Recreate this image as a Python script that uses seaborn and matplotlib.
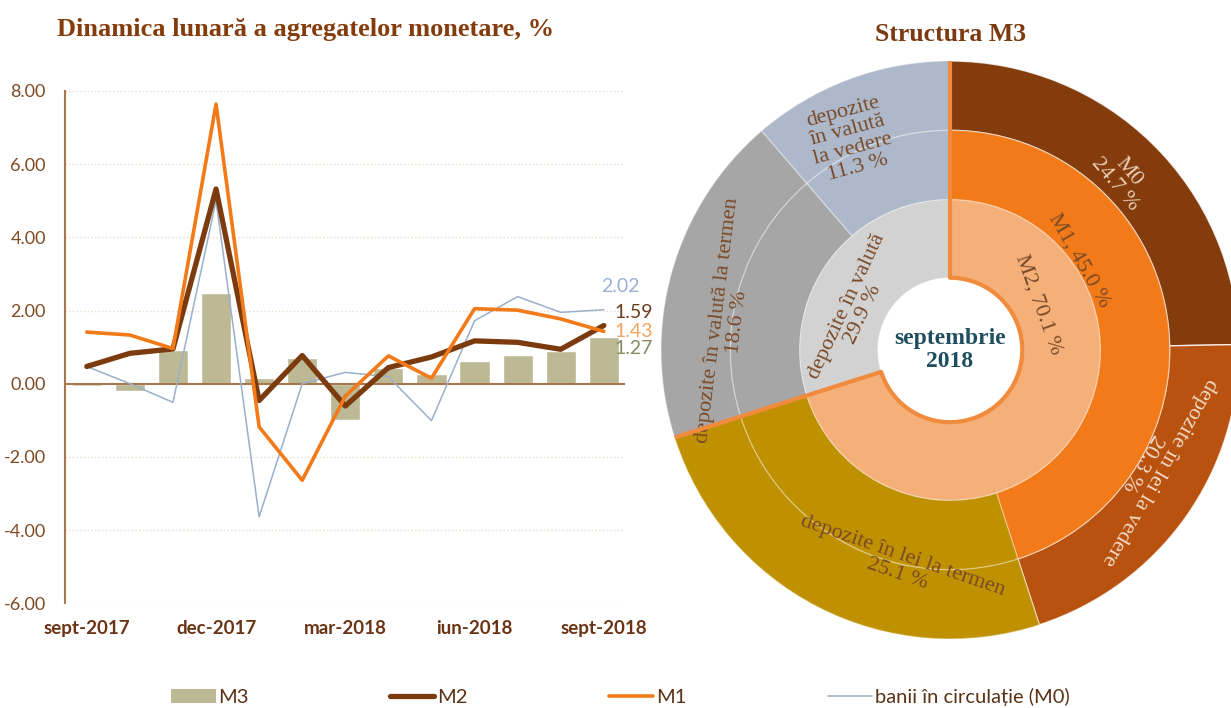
import numpy as np
import pandas as pd
import seaborn as sns
import matplotlib.pyplot as plt
from matplotlib.patches import Patch
from matplotlib.lines import Line2D

# monthly dynamics, %
months = ['sept-2017', 'oct-2017', 'nov-2017', 'dec-2017', 'ian-2018', 'feb-2018', 'mar-2018',
          'apr-2018', 'mai-2018', 'iun-2018', 'iul-2018', 'aug-2018', 'sept-2018']
m3 = [-0.05, -0.20, 0.93, 2.47, 0.15, 0.70, -1.00, 0.43, 0.26, 0.63, 0.79, 0.88, 1.27]
m2 = [0.47, 0.83, 0.95, 5.32, -0.46, 0.77, -0.61, 0.44, 0.73, 1.17, 1.13, 0.94, 1.59]
m1 = [1.41, 1.33, 0.96, 7.64, -1.18, -2.64, -0.34, 0.76, 0.15, 2.05, 2.01, 1.77, 1.43]
m0 = [0.47, 0.00, -0.51, 5.00, -3.64, 0.00, 0.31, 0.19, -1.01, 1.72, 2.38, 1.95, 2.02]

# structure of M3, september 2018
inner_labels = ['M2, 70.1 %', 'depozite în valută\n29.9 %']
inner_vals = [70.1, 29.9]
middle_vals = [45.0, 25.1, 18.6, 11.3]
outer_vals = [24.7, 20.3, 25.1, 18.6, 11.3]

c_m3 = '#BDB995'
c_m2 = '#7B3B0E'
c_m1 = '#F27A18'
c_m0 = '#9AAFC9'

sns.set_theme(style='white')
plt.rcParams['font.family'] = ['Lato', 'DejaVu Sans']

fig = plt.figure(figsize=(12.31, 7.08), dpi=100)
ax = fig.add_axes([0.053, 0.148, 0.455, 0.7235])

pos = np.arange(len(months))
sns.barplot(x=months, y=m3, color=c_m3, width=0.7, saturation=1, ax=ax, zorder=2)
sns.lineplot(x=pos, y=m0, color=c_m0, linewidth=1.1, ax=ax, zorder=3)
sns.lineplot(x=pos, y=m2, color=c_m2, linewidth=3.8, ax=ax, zorder=4)
sns.lineplot(x=pos, y=m1, color=c_m1, linewidth=2.6, ax=ax, zorder=5)

ax.set_ylim(-6, 8)
ax.set_xlim(-0.5, 12.5)
ax.set_yticks(np.arange(-6, 9, 2))
ax.set_yticklabels([f'{v:.2f}' for v in np.arange(-6, 9, 2)], fontsize=13, color='#7F4A22')
ax.set_xticks(pos[::3])
ax.set_xticklabels(months[::3], fontsize=13.5, color='#6A3414', fontweight='bold')
ax.tick_params(axis='both', length=0)
ax.tick_params(axis='y', pad=14)
ax.tick_params(axis='x', pad=12)
for v in np.arange(-6, 9, 2):
    if v != 0:
        ax.axhline(v, color='#EADCCB', linewidth=1, linestyle=':', zorder=0)
ax.axhline(0, color='#A8774D', linewidth=1.5, zorder=2.5)
for s in ['top', 'right', 'bottom']:
    ax.spines[s].set_visible(False)
ax.spines['left'].set_color('#A8774D')
ax.spines['left'].set_linewidth(1.5)
ax.set_xlabel('')
ax.set_ylabel('')

last = pos[-1]
ends = [(m0[-1], '#9CB0D6', -2, 17), (m2[-1], '#6B3D1E', 8, 9.5),
        (m1[-1], '#F4A460', 8, 0), (m3[-1], '#8A8A62', 8, -8)]
for val, col, dx, dy in ends:
    ax.annotate(f'{val:.2f}', (last, val), xytext=(dx, dy), textcoords='offset points',
                color=col, fontsize=14, ha='left', va='center')

fig.text(0.046, 0.958, 'Dinamica lunară a agregatelor monetare, %', fontsize=19,
         fontweight='bold', color='#843C0C', family=['Liberation Serif', 'DejaVu Serif'], va='center')

handles = [Patch(facecolor=c_m3, edgecolor='none'),
           Line2D([], [], color=c_m2, linewidth=3.8),
           Line2D([], [], color=c_m1, linewidth=2.6),
           Line2D([], [], color=c_m0, linewidth=1.1)]
fig.legend(handles, ['M3', 'M2', 'M1', 'banii în circulație (M0)'], loc='center',
           bbox_to_anchor=(0.504, 0.016), ncol=4, frameon=False, fontsize=14.5,
           handlelength=2.2, handletextpad=0.15, columnspacing=7.0, labelcolor='#5A3215')

# sunburst of M3
ax2 = fig.add_axes([0.537, 0.0975, 0.4695, 0.8164])
edge = dict(edgecolor=(1, 1, 1, 0.3), linewidth=1)
outer, _ = ax2.pie(outer_vals, radius=1.0, startangle=90, counterclock=False,
                   colors=['#843C0C', '#B9520F', '#BF9000', '#A6A6A6', '#ADB9CA'],
                   wedgeprops=dict(width=0.24, **edge))
middle, _ = ax2.pie(middle_vals, radius=0.76, startangle=90, counterclock=False,
                    colors=[c_m1, '#BF9000', '#A6A6A6', '#ADB9CA'],
                    wedgeprops=dict(width=0.24, **edge))
inner, _ = ax2.pie(inner_vals, radius=0.52, startangle=90, counterclock=False,
                   colors=['#F5B07A', '#D3D2D2'], wedgeprops=dict(width=0.27, **edge))
# clearer white separators on the outer lei sectors
for w in outer[:2]:
    w.set_edgecolor((1, 1, 1, 0.8))

# orange outline of the M2 region
end = 90 - 360 * inner_vals[0] / 100
for ang in [90, end]:
    t = np.deg2rad(ang)
    ax2.plot([0.25 * np.cos(t), np.cos(t)], [0.25 * np.sin(t), np.sin(t)],
             color='#F08A3C', linewidth=3, solid_capstyle='butt', zorder=5)
arc = np.deg2rad(np.linspace(90, end, 200))
ax2.plot(0.25 * np.cos(arc), 0.25 * np.sin(arc), color='#F08A3C', linewidth=3, zorder=5)

ax2.set_xlim(-1, 1)
ax2.set_ylim(-1, 1)
ax2.set_aspect('equal')
ax2.axis('off')

serif = ['Liberation Serif', 'DejaVu Serif']
txt = '#7A4A28'
labels = [
    ('M0\n24.7 %', 0.595, 0.595, -50, '#E9CFB4'),
    ('M1, 45.0 %', 0.446, 0.311, -60, txt),
    (inner_labels[0], 0.305, 0.156, -70, txt),
    ('depozite în lei la vedere\n20.3 %', 0.695, -0.405, -120, '#F3DCC8'),
    ('depozite în lei la termen\n25.1 %', -0.173, -0.744, -19, txt),
    ('depozite în valută la termen\n18.6 %', -0.77, 0.10, 83, txt),
    ('depozite\nîn valută\nla vedere\n11.3 %', -0.346, 0.727, 15, txt),
    (inner_labels[1], -0.329, 0.138, 65, txt),
]
for s, x, y, rot, col in labels:
    ax2.text(x, y, s, rotation=rot, ha='center', va='center', fontsize=16, color=col,
             family=serif, linespacing=1.0, rotation_mode='anchor')
ax2.text(0, 0, 'septembrie\n2018', ha='center', va='center', fontsize=17, fontweight='bold',
         color='#1F4E5F', family=serif, linespacing=1.1)

fig.text(0.772, 0.951, 'Structura M3', ha='center', va='center', fontsize=18.5,
         fontweight='bold', color='#7B3A10', family=serif)

fig.savefig('out.png', dpi=100, facecolor='white')
